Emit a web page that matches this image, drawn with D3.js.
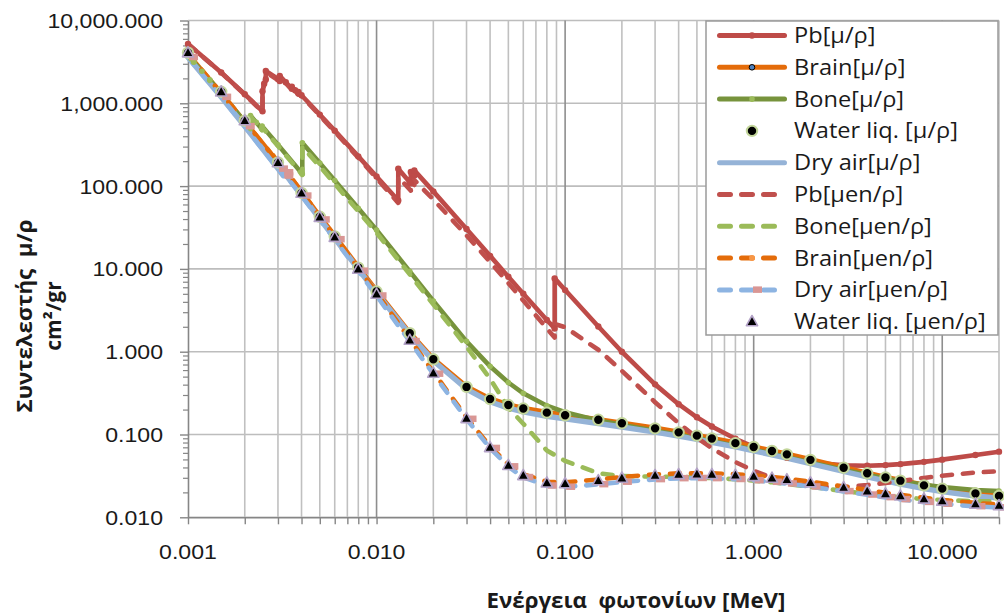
<!DOCTYPE html>
<html>
<head>
<meta charset="utf-8">
<script src="https://cdn.jsdelivr.net/npm/d3@7"></script>
<style>
  body { margin: 0; background: #ffffff; }
  svg { display: block; }
  text { white-space: pre; }
</style>
</head>
<body>
<svg id="chart" width="1004" height="615"></svg>
<script>
// Photon energies in MeV and mass attenuation / energy-absorption coefficients in cm^2/g

// Water, liquid
const waterE = [0.001,0.0015,0.002,0.003,0.004,0.005,0.006,0.008,0.01,0.015,0.02,0.03,0.04,0.05,0.06,0.08,0.1,0.15,0.2,0.3,0.4,0.5,0.6,0.8,1,1.25,1.5,2,3,4,5,6,8,10,15,20];
const waterMu = [4078,1376,617.3,192.9,82.78,42.58,24.64,10.37,5.329,1.673,0.8096,0.3756,0.2683,0.2269,0.2059,0.1837,0.1707,0.1505,0.137,0.1186,0.1061,0.09687,0.08956,0.07865,0.07072,0.06323,0.05754,0.04942,0.03969,0.03403,0.03031,0.0277,0.02429,0.02219,0.01941,0.01813];
const waterMuEn = [4065,1372,615.2,191.7,81.91,41.88,24.05,9.915,4.944,1.374,0.5503,0.1557,0.06947,0.04223,0.0319,0.02597,0.02546,0.02764,0.02967,0.03192,0.03279,0.03299,0.03284,0.03206,0.03103,0.02965,0.02833,0.02608,0.02281,0.02066,0.01915,0.01806,0.01658,0.01566,0.01441,0.01382];

// Dry air (with Ar K edge)
const airE = [0.001,0.0015,0.002,0.003,0.0032029,0.0032029,0.004,0.005,0.006,0.008,0.01,0.015,0.02,0.03,0.04,0.05,0.06,0.08,0.1,0.15,0.2,0.3,0.4,0.5,0.6,0.8,1,1.25,1.5,2,3,4,5,6,8,10,15,20];
const airMu = [3606,1191,527.9,162.5,134,148.5,77.88,40.27,23.41,9.921,5.12,1.614,0.7779,0.3538,0.2485,0.208,0.1875,0.1662,0.1541,0.1356,0.1233,0.1067,0.09549,0.08712,0.08055,0.07074,0.06358,0.05687,0.05175,0.04447,0.03581,0.03079,0.02751,0.02522,0.02225,0.02045,0.0181,0.01705];
const airMuEn = [3599,1188,526.2,161.4,133,146,76.36,39.31,22.7,9.446,4.742,1.334,0.5389,0.1537,0.06833,0.04098,0.03041,0.02407,0.02325,0.02496,0.02672,0.02872,0.02949,0.02966,0.02953,0.02882,0.02789,0.02666,0.02547,0.02345,0.02057,0.0187,0.0174,0.01647,0.01525,0.0145,0.01353,0.01311];

// Lead (M, L and K edges)
const pbE = [0.001,0.0015,0.002,0.002484,0.002484,0.00253429,0.002586,0.002586,0.003,0.0030664,0.0030664,0.0033013,0.0035542,0.0035542,0.00369948,0.0038507,0.0038507,0.004,0.005,0.006,0.008,0.01,0.0130352,0.0130352,0.015,0.0152,0.0152,0.0155269,0.0158608,0.0158608,0.02,0.03,0.04,0.05,0.06,0.08,0.0880045,0.0880045,0.1,0.15,0.2,0.3,0.4,0.5,0.6,0.8,1,1.25,1.5,2,3,4,5,6,8,10,15,20];
const pbMu = [5210,2356,1285,800.6,1397,1726,1944,2458,1965,1857,2146,1796,1496,1585,1442,1311,1368,1251,730.4,467.2,228.7,130.6,67.01,162.1,111.6,107.8,148.5,141.6,134.4,154.8,86.36,30.32,14.36,8.041,5.021,2.419,1.91,7.683,5.549,2.014,0.9985,0.4031,0.2323,0.1614,0.1248,0.0887,0.07102,0.05876,0.05222,0.04606,0.04234,0.04197,0.04272,0.04391,0.04675,0.04972,0.05658,0.06206];
const pbMuEn = [5197,2344,1274,789.5,1366,1682,1895,2390,1913,1808,2090,1748,1459,1546,1405,1279,1335,1221,712.4,454.6,220.7,124.7,62.7,129.1,91,88.07,113.1,108.3,103.2,118,68.99,25.36,12.11,6.74,4.149,1.916,1.482,2.16,1.976,1.056,0.587,0.2455,0.137,0.09128,0.06819,0.04644,0.03654,0.02988,0.0264,0.0236,0.02322,0.02449,0.026,0.02744,0.02989,0.03181,0.03478,0.03595];

// Bone (Na, Mg, P, S and Ca edges)
const boneE = [0.001,0.00103542,0.0010721,0.0010721,0.0011855,0.001305,0.001305,0.0015,0.002,0.0021455,0.0021455,0.00230297,0.002472,0.002472,0.003,0.004,0.0040381,0.0040381,0.005,0.006,0.008,0.01,0.015,0.02,0.03,0.04,0.05,0.06,0.08,0.1,0.15,0.2,0.3,0.4,0.5,0.6,0.8,1,1.25,1.5,2,3,4,5,6,8,10,15,20];
const boneMu = [3781,3452,3150,3156,2434,1892,1927,1313,598.4,494.6,709.6,587.8,485.3,530,314.9,144,140.2,333.9,190.2,116.8,53.96,29.49,9.349,4.098,1.333,0.6655,0.4242,0.3148,0.2229,0.1855,0.148,0.1309,0.1113,0.09908,0.09022,0.08332,0.07308,0.06566,0.05871,0.05346,0.04607,0.03745,0.03257,0.02946,0.02734,0.02467,0.02314,0.02132,0.02068];
const boneMuEn = [3772,3444,3143,3149,2428,1887,1922,1309,596.5,492.9,690.6,572.4,472.9,512.8,305.3,140.1,136.4,297.9,173,106.7,49.63,27.23,8.603,3.726,1.15,0.47,0.21,0.135,0.064,0.048,0.034,0.0315,0.031,0.0307,0.0303,0.0298,0.0288,0.02775,0.02646,0.02527,0.02336,0.0208,0.01924,0.01822,0.0175,0.01663,0.01616,0.01566,0.01552];

// Brain (Na, P, S, Cl and K edges)
const brainE = [0.001,0.0010721,0.0010721,0.0015,0.002,0.0021455,0.0021455,0.002472,0.002472,0.0028224,0.0028224,0.003,0.0036074,0.0036074,0.004,0.005,0.006,0.008,0.01,0.015,0.02,0.03,0.04,0.05,0.06,0.08,0.1,0.15,0.2,0.3,0.4,0.5,0.6,0.8,1,1.25,1.5,2,3,4,5,6,8,10,15,20];
const brainMu = [3990,3300,3310,1338,604,494.5,503,335,339,232,237.5,199,114.5,118.5,86.5,43.9,25.4,10.7,5.5,1.72,0.832,0.384,0.2735,0.2313,0.2099,0.1873,0.1741,0.1535,0.1397,0.1209,0.1082,0.0988,0.0913,0.0802,0.0721,0.0645,0.0587,0.0504,0.0405,0.0347,0.0309,0.0283,0.0248,0.0227,0.0198,0.0185];
const brainMuEn = [3977,3288,3298,1334,602,492.8,500,333.5,337.5,230.5,236,197.8,113.3,117.2,85.6,43.2,24.8,10.25,5.11,1.42,0.569,0.161,0.0718,0.0437,0.033,0.0269,0.0264,0.0286,0.0307,0.033,0.0339,0.0341,0.0339,0.0331,0.0321,0.0307,0.0293,0.027,0.0236,0.0214,0.0198,0.0187,0.0172,0.0162,0.0149,0.0143];

// Axis ticks and labels
const xTickValues = [0.001, 0.01, 0.1, 1, 10];
const xTickLabels = ["0.001", "0.010", "0.100", "1.000", "10.000"];
const yTickValues = [10000, 1000, 100, 10, 1, 0.1, 0.01];
const yTickLabels = ["10,000.000", "1,000.000", "100.000", "10.000", "1.000", "0.100", "0.010"];

const xTitle = "Ενέργεια  φωτονίων [MeV]";
const yTitleLines = ["Συντελεστής  μ/ρ", "cm²/gr"];

// ---------------------------------------------------------------------------
const svg = d3.select("#chart");
svg.append("rect").attr("width", 1004).attr("height", 615).attr("fill", "#ffffff");

const x = d3.scaleLog().domain([0.001, 20]).range([188, 999]);
const y = d3.scaleLog().domain([0.01, 10000]).range([517.3, 20.5]);

const zip = (es, vs) => es.map((e, i) => ({ e, v: vs[i] }));

// series in drawing order, with their styles
const series = [
  { name: "Pb[μ/ρ]",             data: zip(pbE, pbMu),          line: "#BE4B48", width: 4.6, marker: "dot",     mcol: "#BE4B48", mr: 3.2 },
  { name: "Brain[μ/ρ]",          data: zip(brainE, brainMu),    line: "#E46C0A", width: 4.2, marker: "bluedot", plotMarkers: false },
  { name: "Bone[μ/ρ]",           data: zip(boneE, boneMu),      line: "#77933C", width: 4.6, marker: "dot",     mcol: "#9BBB59", mr: 2.8 },
  { name: "Water liq. [μ/ρ]",    data: zip(waterE, waterMu),    line: null,      marker: "circle" },
  { name: "Dry air[μ/ρ]",        data: zip(airE, airMu),        line: "#95B3D7", width: 5.4, marker: null },
  { name: "Pb[μen/ρ]",           data: zip(pbE, pbMuEn),        line: "#C0504D", width: 4.6, dash: true, marker: null },
  { name: "Bone[μen/ρ]",         data: zip(boneE, boneMuEn),    line: "#9BBB59", width: 4.6, dash: true, marker: null },
  { name: "Brain[μen/ρ]",        data: zip(brainE, brainMuEn),  line: "#E46C0A", width: 4.6, dash: true, marker: "dot", mcol: "#F79646", mr: 3, plotMarkers: false },
  { name: "Dry air[μen/ρ]",      data: zip(airE, airMuEn),      line: "#8DB4E2", width: 4.6, dash: true, marker: "pinkrect" },
  { name: "Water liq. [μen/ρ]",  data: zip(waterE, waterMuEn),  line: null,      marker: "triangle" }
];

// ---------------- grid ----------------
const xGrid = [];
for (const d of [0.001, 0.01, 0.1, 1, 10]) {
  for (let k = 1; k <= 9; k++) {
    const v = +(k * d).toPrecision(3);
    if (v <= 20.0001) xGrid.push({ v, major: k === 1 });
  }
}
const yMinor = [];
for (const d of [0.01, 0.1, 1, 10, 100, 1000]) {
  for (let k = 2; k <= 9; k++) yMinor.push(+(k * d).toPrecision(3));
}

const grid = svg.append("g");
grid.selectAll("line.hg").data(yTickValues).join("line")
  .attr("x1", x.range()[0]).attr("x2", x.range()[1])
  .attr("y1", d => y(d)).attr("y2", d => y(d))
  .attr("stroke", "#bdbdbd").attr("stroke-width", 1.6);
grid.selectAll("line.vg").data(xGrid.filter(g => g.v > 0.001)).join("line")
  .attr("x1", d => x(d.v)).attr("x2", d => x(d.v))
  .attr("y1", y.range()[1]).attr("y2", y.range()[0])
  .attr("stroke", d => d.major ? "#8e8e8e" : "#c0c0c0").attr("stroke-width", 1.6);

// ---------------- axes ----------------
const axisColor = "#868686";
const gx = svg.append("g").attr("transform", `translate(0,${y.range()[0]})`)
  .call(d3.axisBottom(x).tickValues(xGrid.map(g => g.v)).tickSize(7).tickSizeOuter(0).tickFormat(""));
gx.select(".domain").attr("stroke", axisColor).attr("stroke-width", 1.6);
gx.selectAll(".tick line").attr("stroke", axisColor).attr("stroke-width", 1.4);

const gyMinor = svg.append("g").attr("transform", `translate(${x.range()[0]},0)`)
  .call(d3.axisLeft(y).tickValues(yMinor).tickSize(5).tickSizeOuter(0).tickFormat(""));
gyMinor.select(".domain").remove();
gyMinor.selectAll(".tick line").attr("stroke", axisColor).attr("stroke-width", 1.2);

const gy = svg.append("g").attr("transform", `translate(${x.range()[0]},0)`)
  .call(d3.axisLeft(y).tickValues(yTickValues).tickSize(8).tickSizeOuter(0).tickFormat(""));
gy.select(".domain").attr("stroke", axisColor).attr("stroke-width", 1.6);
gy.selectAll(".tick line").attr("stroke", axisColor).attr("stroke-width", 1.4);

// tick labels (horizontally widened sans serif)
const tickFont = "'Liberation Sans', Arial, sans-serif";
const stretch = 1.1;
svg.append("g").selectAll("text").data(yTickValues).join("text")
  .attr("transform", d => `translate(163,${y(d) + 7.5}) scale(${stretch},1)`)
  .attr("text-anchor", "end")
  .attr("font-family", tickFont).attr("font-size", 21).attr("fill", "#1a1a1a")
  .text((d, i) => yTickLabels[i]);
svg.append("g").selectAll("text").data(xTickValues).join("text")
  .attr("transform", d => `translate(${x(d)},559) scale(${stretch},1)`)
  .attr("text-anchor", "middle")
  .attr("font-family", tickFont).attr("font-size", 21).attr("fill", "#1a1a1a")
  .text((d, i) => xTickLabels[i]);

// axis titles
const titleFont = "'Open Sans', 'Noto Sans', sans-serif";
svg.append("text")
  .attr("x", 636).attr("y", 608)
  .attr("text-anchor", "middle")
  .attr("font-family", titleFont).attr("font-weight", "bold").attr("font-size", 21.5)
  .attr("textLength", 299).attr("lengthAdjust", "spacingAndGlyphs")
  .attr("fill", "#1a1a1a")
  .text(xTitle);
svg.append("text")
  .attr("transform", "translate(32,316) rotate(-90)")
  .attr("text-anchor", "middle")
  .attr("font-family", titleFont).attr("font-weight", "bold").attr("font-size", 21)
  .attr("textLength", 193).attr("lengthAdjust", "spacingAndGlyphs")
  .attr("fill", "#1a1a1a")
  .text(yTitleLines[0]);
svg.append("text")
  .attr("transform", "translate(61,316) rotate(-90)")
  .attr("text-anchor", "middle")
  .attr("font-family", titleFont).attr("font-weight", "bold").attr("font-size", 21)
  .attr("fill", "#1a1a1a")
  .text(yTitleLines[1]);

// ---------------- series lines ----------------
const lineGen = d3.line().x(d => x(d.e)).y(d => y(d.v));
const plot = svg.append("g");
series.filter(s => s.line).forEach(s => {
  plot.append("path")
    .datum(s.data)
    .attr("d", lineGen)
    .attr("fill", "none")
    .attr("stroke", s.line)
    .attr("stroke-width", s.width)
    .attr("stroke-linejoin", "round")
    .attr("stroke-linecap", "round")
    .attr("stroke-dasharray", s.dash ? "10,11" : null);
});

// ---------------- markers ----------------
const triPath = "M0,-6.2L5.6,4L-5.6,4Z";
function drawMarker(g, kind, s) {
  if (kind === "dot") {
    g.append("circle").attr("r", s.mr).attr("fill", s.mcol);
  } else if (kind === "bluedot") {
    g.append("circle").attr("r", 2.8).attr("fill", "#4F81BD").attr("stroke", "#000").attr("stroke-width", 1);
  } else if (kind === "circle") {
    g.append("circle").attr("r", 5.2).attr("fill", "#000").attr("stroke", "#C3D69B").attr("stroke-width", 2);
  } else if (kind === "pinkrect") {
    g.append("rect").attr("x", 1).attr("y", -3.5).attr("width", 9).attr("height", 6.5).attr("fill", "#D99694");
  } else if (kind === "triangle") {
    g.append("path").attr("d", triPath).attr("fill", "#000").attr("stroke", "#B3A2C7").attr("stroke-width", 1.6).attr("stroke-linejoin", "round");
  }
}
series.filter(s => s.marker && s.plotMarkers !== false).forEach(s => {
  const gm = plot.append("g");
  gm.selectAll("g").data(s.data).join("g")
    .attr("transform", d => `translate(${x(d.e)},${y(d.v)})`)
    .each(function () { drawMarker(d3.select(this), s.marker, s); });
});

// ---------------- legend ----------------
const legend = svg.append("g");
legend.append("rect")
  .attr("x", 706).attr("y", 21).attr("width", 292).attr("height", 314)
  .attr("fill", "#ffffff").attr("stroke", "#9a9a9a").attr("stroke-width", 1.5);
const rowY = i => 35.5 + i * 31.8;
const legendTexts = [];
series.forEach((s, i) => {
  const g = legend.append("g").attr("transform", `translate(0,${rowY(i)})`);
  if (s.line) {
    g.append("line")
      .attr("x1", 719.5).attr("x2", 784.5).attr("y1", 0).attr("y2", 0)
      .attr("stroke", s.line).attr("stroke-width", 5)
      .attr("stroke-linecap", "round")
      .attr("stroke-dasharray", s.dash ? "11,11" : null);
  }
  if (s.marker) {
    const gm = g.append("g").attr("transform", "translate(752,0)");
    drawMarker(gm, s.marker, s);
  }
  legendTexts.push(g.append("text")
    .attr("transform", "translate(794,7.5)")
    .attr("font-family", titleFont).attr("font-size", 21.5).attr("fill", "#1a1a1a")
    .text(s.name));
});
// widen legend labels uniformly so "Water liq. [μ/ρ]" spans 164 px
const refWidth = legendTexts[3].node().getComputedTextLength();
const legendScale = refWidth > 0 ? 164 / refWidth : 1;
legendTexts.forEach(t => t.attr("transform", `translate(794,7.5) scale(${legendScale},1)`));
</script>
</body>
</html>
